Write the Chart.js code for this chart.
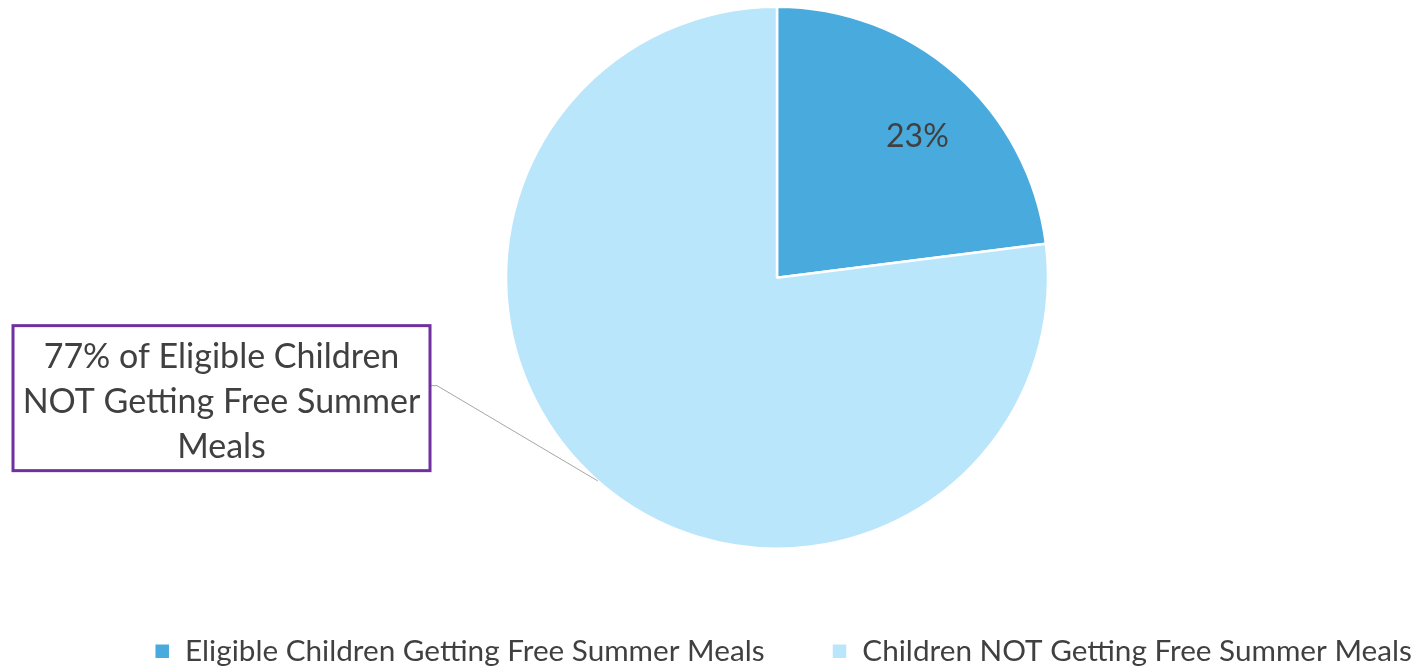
<!DOCTYPE html>
<html>
<head>
<meta charset="utf-8">
<script src="https://cdn.jsdelivr.net/npm/chart.js@4/dist/chart.umd.min.js"></script>
<style>
  html, body { margin: 0; padding: 0; background: #fff; }
  #wrap { width: 1422px; height: 667px; }
</style>
</head>
<body>
<div id="wrap"><canvas id="myChart"></canvas></div>
<script>
var categories = ["Eligible Children Getting Free Summer Meals", "Children NOT Getting Free Summer Meals"];
var values = [23, 77];
var sliceColors = ['#49abdd', '#b9e6fb'];
var calloutLines = ["77% of Eligible Children", "NOT Getting Free Summer", "Meals"];

var textColor = '#404040';
var fontName = 'Lato, "Open Sans", sans-serif';

// pie sits right of centre and a bit higher, legend further right (like the excel chart)
var shiftPlugin = {
    id: 'shift',
    afterLayout(chart) {
        var area = chart.chartArea;
        area.left += 132;
        area.top -= 14;
        area.width = area.right - area.left;
        area.height = area.bottom - area.top;
        if (chart.legend) {
            chart.legend.left += 72;
            chart.legend.right += 72;
        }
    }
};

var callout = {
    id: 'callout',
    afterDatasetsDraw(chart) {
        var ctx = chart.ctx;
        var meta = chart.getDatasetMeta(0);
        var small = meta.data[0];
        var big = meta.data[1];
        var total = values.reduce((a, b) => a + b, 0);

        ctx.save();
        // value label inside the small slice
        var a0 = (small.startAngle + small.endAngle) / 2 + 0.06;
        var r0 = small.outerRadius * 0.735;
        ctx.fillStyle = textColor;
        ctx.font = '32px ' + fontName;
        ctx.textAlign = 'center';
        ctx.textBaseline = 'middle';
        ctx.fillText(Math.round(values[0] / total * 100) + '%', small.x + Math.cos(a0) * r0, small.y + Math.sin(a0) * r0);

        // leader line to the big slice
        var cx = big.x, cy = big.y;
        var a1 = (big.startAngle + big.endAngle) / 2;
        var ex = cx + Math.cos(a1) * big.outerRadius;
        var ey = cy + Math.sin(a1) * big.outerRadius;
        ctx.strokeStyle = '#a6a6a6';
        ctx.lineWidth = 1;
        ctx.beginPath();
        ctx.moveTo(cx - 347, cy + 108);
        ctx.lineTo(cx - 340, cy + 108);
        ctx.lineTo(ex, ey);
        ctx.stroke();

        // callout box
        ctx.fillStyle = '#fff';
        ctx.fillRect(cx - 764, cy + 48, 417, 145);
        ctx.strokeStyle = '#7030a0';
        ctx.lineWidth = 3;
        ctx.strokeRect(cx - 764, cy + 48, 417, 145);

        ctx.fillStyle = textColor;
        ctx.font = '34px ' + fontName;
        calloutLines.forEach(function (line, i) {
            ctx.fillText(line, cx - 555.5, cy + 79 + i * 45);
        });
        ctx.restore();
    }
};

var ctx = document.getElementById('myChart').getContext('2d');
var chart = new Chart(ctx, {
    type: 'pie',
    data: {
        labels: categories,
        datasets: [{
            data: values,
            backgroundColor: sliceColors,
            borderColor: '#ffffff',
            borderWidth: 2.5,
            radius: 271
        }]
    },
    options: {
        responsive: true,
        maintainAspectRatio: false,
        animation: false,
        layout: { padding: { left: 0, right: 0, top: 0, bottom: -9 } },
        plugins: {
            legend: {
                position: 'bottom',
                labels: {
                    boxWidth: 16,
                    boxHeight: 16,
                    padding: 67,
                    color: textColor,
                    font: { family: fontName, size: 29.7 }
                }
            },
            tooltip: { enabled: false }
        }
    },
    plugins: [shiftPlugin, callout]
});
</script>
</body>
</html>
